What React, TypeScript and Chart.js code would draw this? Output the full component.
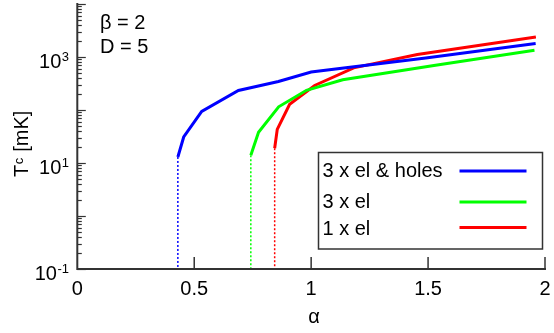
import React, { useEffect, useRef } from "react";
import { Chart, registerables } from "chart.js";

Chart.register(...registerables);

// ---- data ----
const seriesNames = ["3 x el & holes", "3 x el", "1 x el"];
const seriesColors = ["#0000ff", "#00ff00", "#ff0000"];

const blueAlpha = [0.43, 0.455, 0.532, 0.689, 0.86, 1.0, 1.49, 1.96];
const blueTc = [13, 31, 94, 234, 345, 520, 955, 1790];

const greenAlpha = [0.742, 0.775, 0.861, 0.98, 1.135, 1.525, 1.955];
const greenTc = [14, 38, 115, 235, 372, 690, 1340];

const redAlpha = [0.844, 0.855, 0.908, 1.015, 1.182, 1.454, 1.961];
const redTc = [19, 43, 128, 290, 625, 1115, 2380];

const xTicks = [0, 0.5, 1, 1.5, 2];
const xTickLabels = ["0", "0.5", "1", "1.5", "2"];
const yDecades = [0.1, 1, 10, 100, 1000, 10000];
const yLabelValues = [0.1, 10, 1000];
const yLabelExps = ["-1", "1", "3"];
const paramTexts = ["β = 2", "D = 5"];
const xTitle = "α";

const FONT = "'Liberation Sans', Arial, Helvetica, sans-serif";
const AXIS_COLOR = "#333333";

function pts(xs: number[], ys: number[]) {
  return xs.map((x, i) => ({ x, y: ys[i] }));
}

const allSeries = [
  { a: blueAlpha, t: blueTc },
  { a: greenAlpha, t: greenTc },
  { a: redAlpha, t: redTc },
];

const decorPlugin = {
  id: "decor",
  afterDatasetsDraw(chart: any) {
    const ctx: CanvasRenderingContext2D = chart.ctx;
    const xs = chart.scales.x;
    const ys = chart.scales.y;
    const x0 = xs.getPixelForValue(xTicks[0]);
    const xr = xs.getPixelForValue(xTicks[xTicks.length - 1]);
    const yb = ys.getPixelForValue(yDecades[0]);
    const yt = ys.getPixelForValue(yDecades[yDecades.length - 1]);

    ctx.save();
    // axes
    ctx.strokeStyle = AXIS_COLOR;
    ctx.lineWidth = 2;
    ctx.lineCap = "butt";
    ctx.beginPath();
    ctx.moveTo(x0, yt - 1);
    ctx.lineTo(x0, yb);
    ctx.lineTo(xr + 1, yb);
    ctx.stroke();

    // x ticks (inside)
    ctx.lineWidth = 1.5;
    xTicks.forEach((v) => {
      if (v === xTicks[0]) return;
      const p = xs.getPixelForValue(v);
      ctx.beginPath();
      ctx.moveTo(p, yb);
      ctx.lineTo(p, yb - 12);
      ctx.stroke();
    });

    // y ticks (inside): decades long, minors short
    ctx.lineWidth = 1.2;
    for (let i = 0; i < yDecades.length; i++) {
      const d = yDecades[i];
      const maxM = i === yDecades.length - 1 ? 1 : 9;
      for (let m = 1; m <= maxM; m++) {
        const p = Math.round(ys.getPixelForValue(d * m)) + 0.5;
        const len = m === 1 ? 8.5 : 4.5;
        ctx.beginPath();
        ctx.moveTo(x0, p);
        ctx.lineTo(x0 + len, p);
        ctx.stroke();
      }
    }

    // x tick labels
    ctx.fillStyle = "#000";
    ctx.font = `20px ${FONT}`;
    ctx.textAlign = "center";
    ctx.textBaseline = "alphabetic";
    xTicks.forEach((v, i) => {
      const p = xs.getPixelForValue(v);
      ctx.fillText(xTickLabels[i], p, yb + 26);
    });

    // y tick labels with superscripts
    yLabelValues.forEach((v, i) => {
      const p = ys.getPixelForValue(v);
      const right = 69;
      ctx.font = `13px ${FONT}`;
      ctx.textAlign = "right";
      const ew = ctx.measureText(yLabelExps[i]).width;
      ctx.fillText(yLabelExps[i], right, p + 4);
      ctx.font = `20px ${FONT}`;
      ctx.fillText("10", right - ew - 0.5, p + 11);
    });

    // x title
    ctx.font = `20px ${FONT}`;
    ctx.textAlign = "center";
    ctx.fillText(xTitle, 314, 323);

    // y title (rotated) T_c [mK]
    ctx.save();
    ctx.translate(28, 177);
    ctx.rotate(-Math.PI / 2);
    ctx.textAlign = "left";
    ctx.font = `20px ${FONT}`;
    ctx.fillText("T", 0, 0);
    const wT = ctx.measureText("T").width;
    ctx.font = `13px ${FONT}`;
    ctx.fillText("c", wT + 0.5, -5);
    const wc = ctx.measureText("c").width;
    ctx.font = `20px ${FONT}`;
    ctx.fillText(" [mK]", wT + wc + 1, 0);
    ctx.restore();

    // parameter texts
    ctx.textAlign = "left";
    ctx.font = `20px ${FONT}`;
    ctx.fillText(paramTexts[0], 100, 28.5);
    ctx.fillText(paramTexts[1], 100, 52.5);

    // legend
    const bx = 318.5, by = 152.5, bw = 224, bh = 96.5;
    ctx.fillStyle = "#ffffff";
    ctx.fillRect(bx, by, bw, bh);
    ctx.strokeStyle = "#333333";
    ctx.lineWidth = 1.5;
    ctx.strokeRect(bx, by, bw, bh);
    const rowBase = [176.5, 207.5, 235];
    const rowLine = [171, 202, 227.5];
    ctx.fillStyle = "#000";
    seriesNames.forEach((n, i) => {
      ctx.fillText(n, 322.5, rowBase[i]);
      ctx.strokeStyle = seriesColors[i];
      ctx.lineWidth = 2.8;
      ctx.beginPath();
      ctx.moveTo(459.5, rowLine[i]);
      ctx.lineTo(526.5, rowLine[i]);
      ctx.stroke();
    });
    ctx.restore();
  },
};

export default function App() {
  const ref = useRef<HTMLCanvasElement | null>(null);

  useEffect(() => {
    if (!ref.current) return;
    const datasets: any[] = [];
    allSeries.forEach((s, i) => {
      datasets.push({
        label: seriesNames[i],
        data: pts(s.a, s.t),
        borderColor: seriesColors[i],
        backgroundColor: seriesColors[i],
        borderWidth: 3,
        pointRadius: 0,
        showLine: true,
        fill: false,
        tension: 0,
      });
      datasets.push({
        label: seriesNames[i] + " drop",
        data: [
          { x: s.a[0], y: s.t[0] },
          { x: s.a[0], y: yDecades[0] },
        ],
        borderColor: seriesColors[i],
        borderWidth: 1.5,
        borderDash: [2, 2],
        pointRadius: 0,
        showLine: true,
        fill: false,
      });
    });

    const chart = new Chart(ref.current, {
      type: "scatter",
      data: { datasets },
      options: {
        animation: false,
        responsive: false,
        devicePixelRatio: 1,
        layout: { padding: { left: 77.3, right: 9, top: 4, bottom: 64 } },
        plugins: {
          legend: { display: false },
          tooltip: { enabled: false },
        },
        scales: {
          x: { type: "linear", min: 0, max: 2, display: false },
          y: { type: "logarithmic", min: 0.1, max: 10000, display: false },
        },
      } as any,
      plugins: [decorPlugin],
    });
    return () => chart.destroy();
  }, []);

  return (
    <div style={{ position: "absolute", left: 0, top: 0, width: 554, height: 333, background: "#fff" }}>
      <canvas ref={ref} width={554} height={333} style={{ width: 554, height: 333, display: "block" }} />
    </div>
  );
}
